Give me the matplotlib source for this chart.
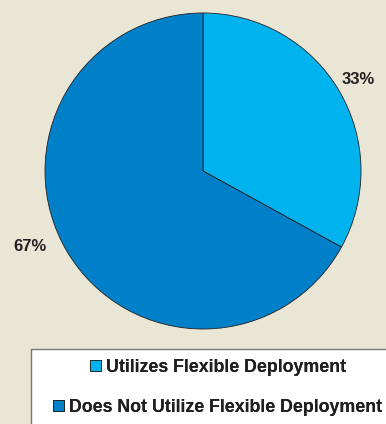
import matplotlib
matplotlib.use("Agg")
import matplotlib.pyplot as plt
from matplotlib.patches import Rectangle

# ── Data ──────────────────────────────────────────────────────────────────────
categories = ["Utilizes Flexible Deployment", "Does Not Utilize Flexible Deployment"]
shares     = [33, 67]
colors     = ["#00B3EE", "#0080C8"]

BG     = "#E9E6D6"
INK    = "#231F20"

plt.rcParams["font.family"] = ["Liberation Sans", "DejaVu Sans"]

fig = plt.figure(figsize=(3.86, 4.24), dpi=100, facecolor=BG)

# pie: centre ~(203,171) px, radius ~158 px
ax = fig.add_axes([45 / 386, 1 - 329 / 424, 316 / 386, 316 / 424])
ax.set_facecolor(BG)
wedges, texts = ax.pie(
    shares, colors=colors, startangle=90, counterclock=False,
    labels=[f"{v}%" for v in shares], labeldistance=1.19,
    wedgeprops=dict(edgecolor=INK, linewidth=0.6),
    textprops=dict(fontsize=12, fontweight="bold", color=INK),
)
# nudge labels closer to where they sit in the original
texts[0].set_position((0.98, 0.576))
texts[1].set_position((-1.095, -0.48))
for t in texts:
    t.set_horizontalalignment("center")
    t.set_verticalalignment("center")
ax.set_xlim(-1, 1)
ax.set_ylim(-1, 1)
ax.set_aspect("equal")
ax.axis("off")

# legend box
fig.patches.append(Rectangle((31 / 386, -0.05), 1.0, (424 - 349) / 424 + 0.05,
                             transform=fig.transFigure, facecolor="white",
                             edgecolor="#777777", linewidth=1.0, zorder=0))

for i, (w, lab) in enumerate(zip(wedges, categories)):
    y = 1 - (367 if i == 0 else 407) / 424
    leg = fig.legend(handles=[w], labels=[lab], loc="center",
                     bbox_to_anchor=(218 / 386, y), frameon=False,
                     handlelength=0.6, handleheight=0.6, handletextpad=0.3,
                     borderpad=0, prop=dict(size=12.8, weight="bold"))
    for t in leg.get_texts():
        t.set_color(INK)
    fig.add_artist(leg)

fig.savefig("out.png", dpi=100, facecolor=BG)
